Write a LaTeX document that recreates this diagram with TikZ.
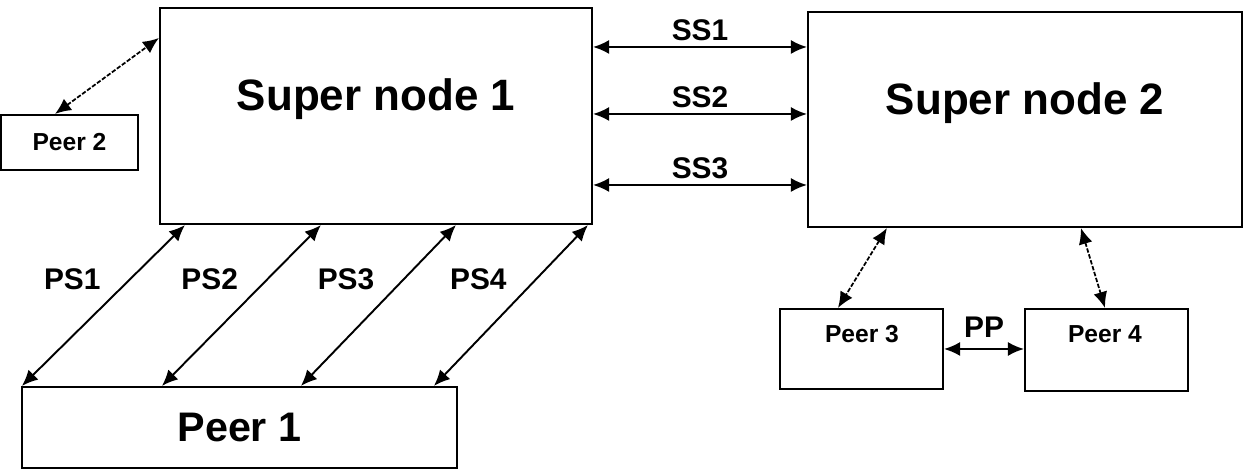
\documentclass[tikz,border=0pt]{standalone}
\usepackage{fontspec}
\setmainfont{Liberation Sans}
\usetikzlibrary{arrows.meta, positioning, calc}

\begin{document}
\begin{tikzpicture}[
  super/.style={draw, line width=1.2pt, minimum width=8.64cm, minimum height=4.32cm, inner sep=0pt},
  peer/.style={draw, line width=1.2pt, inner sep=0pt, font=\fontsize{14}{16}\selectfont\bfseries},
  peertxt/.style={anchor=base, inner sep=0pt, font=\fontsize{14}{16}\selectfont\bfseries},
  title/.style={anchor=base, inner sep=0pt, font=\fontsize{25}{30}\selectfont\bfseries},
  link/.style={{Latex[length=3.2mm, width=2.8mm]}-{Latex[length=3.2mm, width=2.8mm]}, line width=1.1pt},
  thinlink/.style={link, line width=1pt, dash pattern=on 2.5pt off 1pt},
  tag/.style={font=\fontsize{17}{20}\selectfont\bfseries, inner sep=2pt}
]
  \useasboundingbox (0,0) rectangle (24.96,9.42);

  % Super nodes
  \node[super] (sn1) at (7.52, 7.10) {};
  \node[super, minimum width=8.68cm, minimum height=4.30cm] (sn2) at (20.50, 7.03) {};
  \node[title] (sn1txt) at ($(sn1.center)+(0,0.11)$) {Super node 1};
  \node[title] (sn2txt) at ($(sn2.center)+(0,0.10)$) {Super node 2};

  % Peers
  \node[peer, minimum width=8.70cm, minimum height=1.62cm, font=\fontsize{23.5}{28}\selectfont\bfseries] (peer1) at (4.79, 0.87) {Peer 1};
  \node[peer, minimum width=2.74cm, minimum height=1.10cm] (peer2) at (1.39, 6.57) {Peer 2};
  \node[peer, minimum width=3.26cm, minimum height=1.60cm] (peer3) at (17.23, 2.44) {};
  \node[peer, minimum width=3.26cm, minimum height=1.64cm] (peer4) at (22.13, 2.42) {};
  \node[peertxt] (p3txt) at ($(peer3.north)+(0.01,-0.70)$) {Peer 3};
  \node[peertxt] (p4txt) at ($(peer4.north)+(-0.03,-0.70)$) {Peer 4};

  % Super node links
  \foreach \i/\dy in {1/1.38, 2/0.04, 3/-1.38}
    \draw[link] ($(sn1.east)+(0,\dy)$) coordinate (ssl\i)
      -- node[tag, above=0.04cm] (ss\i) {SS\i} (ssl\i -| sn2.west);

  % Peer 1 links
  \foreach \i/\a/\b in {1/0.52/0.02, 2/3.24/2.82, 3/5.94/5.60, 4/8.58/8.26}
    \draw[link] ($(sn1.south west)+(\a,0)$)
      -- node[tag, pos=0.337, left=0.5cm] (ps\i) {PS\i} ($(peer1.north west)+(\b,0)$);

  % Other peers
  \draw[thinlink] ($(peer2.north)+(-0.29,0)$) -- ($(sn1.west)+(0,1.56)$);
  \draw[thinlink] ($(sn2.south west)+(1.60,0)$) -- ($(peer3.north)+(-0.47,0)$);
  \draw[thinlink] ($(sn2.south west)+(5.48,0)$) -- ($(peer4.north)+(-0.03,0)$);
  \draw[link] (peer3.east) -- node[tag, above=0.15cm] (pp) {PP} (peer3.east -| peer4.west);

\end{tikzpicture}
\end{document}
